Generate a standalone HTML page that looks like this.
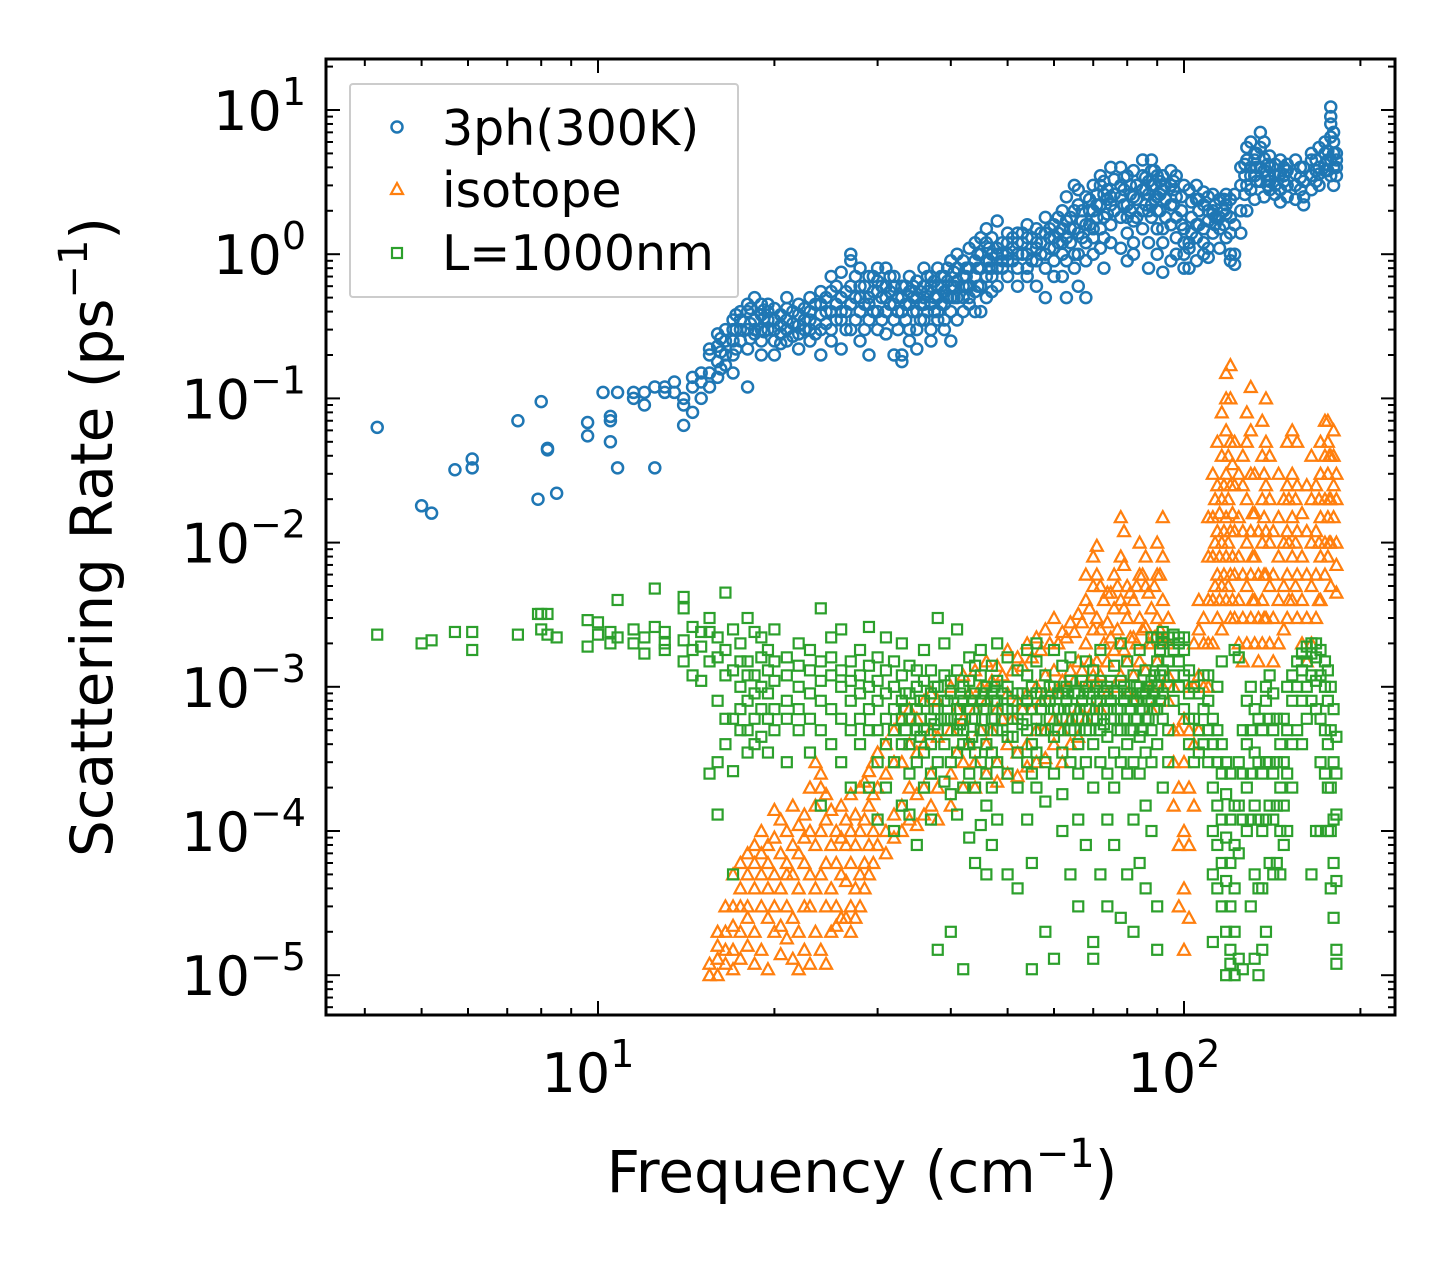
<!DOCTYPE html>
<html><head><meta charset="utf-8"><style>
html,body{margin:0;padding:0;background:#fff;}
svg{display:block;font-family:"DejaVu Sans","Liberation Sans",sans-serif;}
</style></head><body>
<svg id="chart" width="1455" height="1265" viewBox="0 0 1455 1265" xmlns="http://www.w3.org/2000/svg">
<rect width="1455" height="1265" fill="#fff"/>
<g id="marks"></g>
<g id="axes"></g>
<text x="862" y="1192" font-size="58" text-anchor="middle">Frequency (cm<tspan font-size="40" dy="-25">−1</tspan><tspan dy="25">)</tspan></text>
<text transform="translate(112,537) rotate(-90)" font-size="58" text-anchor="middle">Scattering Rate (ps<tspan font-size="40" dy="-25">−1</tspan><tspan dy="25">)</tspan></text>
<g>
<rect x="350" y="84" width="388" height="213" fill="#fff" stroke="#ccc" stroke-width="2" rx="3"/>
<circle cx="397" cy="127" r="5.5" fill="none" stroke="#1f77b4" stroke-width="2.5"/>
<text x="442" y="145" font-size="49">3ph(300K)</text>
<path d="M397,183 L403,194 L391,194 Z" fill="none" stroke="#ff7f0e" stroke-width="2.2"/>
<text x="442" y="207" font-size="49">isotope</text>
<rect x="392" y="248" width="10" height="10" fill="none" stroke="#2ca02c" stroke-width="2.2"/>
<text x="442" y="270" font-size="49">L=1000nm</text>
</g>
</svg>
<script>
const xTicks=[10,100];
const xTickLabels=["1","2"];
const yTicks=[1e1,1e0,1e-1,1e-2,1e-3,1e-4,1e-5];
const yTickLabels=["1","0","−1","−2","−3","−4","−5"];
const threePh=[[4.2,.063],[5,.018],[5.2,.016],[5.7,.032],[6.1,.033,.038],[7.3,.07],[7.9,.02],[8,.095],[8.2,.045,.044],[8.5,.022],[9.6,.055,.068],[10.2,.11],[10.5,.05,.07,.075],[10.8,.11,.033],[11.5,.1,.11],[12,.09,.11],[12.5,.033,.12],[13,.12,.11],[13.5,.11,.13],[14,.065,.09,.1],[14.5,.14,.12,.08],[15,.13,.1,.15],[15.5,.2,.15,.12,.22],[16,.23,.18,.28,.14],[16.5,.17,.25,.3,.2],[17,.25,.35,.2,.3,.15],[17.5,.35,.4,.25,.3],[18,.4,.3,.45,.22,.12],[18.5,.35,.28,.5,.3],[19,.3,.38,.25,.45,.2],[19.5,.45,.35,.3,.4],[20,.35,.25,.42,.3,.2],[21,.42,.3,.35,.25,.5],[22,.38,.28,.45,.32,.22],[23,.5,.35,.3,.4,.25],[24,.3,.45,.38,.55,.2],[25,.55,.4,.3,.7,.25],[26,.75,.5,.35,.4,.22],[27,1,.9,.6,.45,.3],[28,.25,.5,.4,.6,.8],[29,.5,.35,.7,.45,.2],[30,.8,.4,.55,.3,.65],[31,.4,.6,.5,.8,.28],[32,.6,.35,.45,.7,.2],[33,.2,.5,.4,.18,.6],[34,.7,.45,.3,.55,.25],[35,.3,.5,.65,.4,.22],[36,.45,.6,.35,.8,.5],[37,.6,.3,.7,.45,.25],[38,.5,.4,.8,.6,.35],[39,.35,.55,.7,.45,.3],[40,.25,.6,.9,.5,.4],[41,.8,.5,.65,1,.35],[42,.5,.7,.9,.4,.6],[43,.6,.8,1.1,.5,.45],[44,.9,.7,.55,1.2,.4],[45,.4,.8,1,.6,1.3],[46,1.2,.9,.7,.5,1.5],[47,.7,1,1.3,.8,.55],[48,1.1,.8,1.7,.6,1],[50,.9,1.2,.7,1.4,1],[52,1.4,1,.8,1.2,.6],[54,.8,1.3,1.6,1,.7],[56,1.2,.9,1.5,.6,1.1],[58,1,1.4,.8,1.8,.5],[60,1.6,1.1,.9,1.3,.7],[62,.7,1.5,2,1.2,1],[63,1.3,.9,2.5,1.7,.5],[65,2,1.5,1,3,.8],[66,1,2.2,1.4,.6,2.8],[68,.5,1.6,2.5,1.2,.9],[70,1.5,3,2,1,1.3],[72,3,2.2,1.5,3.5,1.1],[73,.8,1.8,2.6,1.3,3.2],[75,2.5,1.6,4,1.2,2.2],[78,4,2.5,1.8,3,1.1],[80,1.8,3.5,2.2,1.4,.9],[82,1.2,2.5,3.8,1.7,1],[85,3.5,2,1.5,4.5,2.8],[87,2,3.2,1.2,2.6,.8],[88,4.5,3,2.2,1.8,3.8],[90,2.5,3.5,1.5,1,2],[92,1.5,2.8,3.5,1.2,.75],[95,3.8,2.2,1.6,3,.9],[97,1,1.3,3.5,2.5,1.8],[100,1.2,1,3,1.5,.8],[102,.8,1.2,2.8,1.1],[105,3,1.3,2.4,1.6,.9],[108,1.2,2.2,1.5,2.7,1],[110,2.5,1.7,2,1.1,.95],[112,2,2.6,1.4,1.9],[115,1.5,2.4,1.8,1.1],[118,2.6,1.9,1.3,2.2],[120,1.8,1,2.4,1.4,.9],[122,1,1.6,2.6,.85],[125,3,2,1.4,4],[128,4.5,3,2,5.5],[130,6,4,2.8,3.5],[132,3.5,5,2.4,4.5],[135,7,5.5,3.2,4],[137,2.5,3.8,4.6,6],[140,4,3.2,4.8,2.8],[143,3.5,4.2,2.6,3],[146,2.8,3.6,4.5,2.3],[150,4.2,3,3.8,2.5],[155,3,4.5,2.4,3.6],[160,2.5,3.2,4,2.2],[165,4.5,3.5,2.8,5],[170,3,4,5.5,3.6],[174,5,3.8,6,4.2],[178,10.5,8,6.5,4.5,3.5,9],[180,6,4,5,3,7],[182,4,5,3.5,4.5],
[16.2,.21,.26,.16],[17.2,.3,.22,.38],[18.2,.33,.42,.26],[19.2,.36,.29,.41],[20.5,.38,.28,.32,.24],[21.5,.33,.4,.27],[22.5,.35,.42,.3],[23.5,.45,.33,.28],[24.5,.4,.5,.33],[25.5,.45,.6,.35],[26.5,.55,.4,.3],[27.5,.5,.7,.35],[28.5,.45,.6,.3],[29.5,.55,.4,.7],[30.5,.5,.35,.6],[31.5,.45,.55,.7],[32.5,.5,.4,.3],[33.5,.35,.6,.45],[34.5,.5,.4,.6],[35.5,.45,.55,.35],[36.5,.55,.4,.7],[37.5,.5,.65,.4],[38.5,.6,.45,.7],[39.5,.5,.65,.8],[40.5,.6,.75,.5],[42.5,.8,.6,.7],[44.5,.8,1,.6],[46.5,.9,1.1,.8],[49,1,.8,1.2,.9],[51,1.1,.9,1.3],[53,1,1.2,1.4],[55,1.1,.9,1.3],[57,1.2,1,1.4],[59,1.3,1.1,1.5],[61,1.2,1.4,1.8],[64,1.5,1.8,1.2],[67,1.7,2,1.3],[69,2,1.6,2.4],[71,2.2,1.8,2.6],[74,2.4,1.9,2.8],[76,2.6,2,3.3],[79,2.8,2.2,3.4],[81,2.6,3,2],[83,2.4,3,1.8],[86,2.8,3.4,2.2],[89,3,3.8,2.4],[91,2.6,3.2,2],[93,2.4,3,1.8],[96,2.8,2.2,3.2],[99,2,2.5,1.6],[103,1.8,2.3,1.4],[106,2,1.6,2.4],[113,1.8,2.2,1.6],[117,2,1.6,2.4],[127,3.5,2.6,4.2],[133,4,3.2,5],[139,3.5,4.2,3],[148,3.5,4,3.2],[158,3.4,2.8,4],[168,3.8,3.2,4.5],[176,4.5,5.2,3.8]];
const isotope=[[15.5,1e-5,1.2e-5],[16,1e-5,1.3e-5,1.6e-5,2e-5],[16.5,1.2e-5,2e-5,3e-5,1.5e-5],[17,1.5e-5,3e-5,5e-5,2.2e-5,1.1e-5],[17.5,2e-5,4e-5,6e-5,3e-5,1.3e-5],[18,3e-5,5e-5,7e-5,1.6e-5,2.5e-5],[18.5,4e-5,8e-5,6e-5,2e-5,1.2e-5],[19,5e-5,1e-4,3e-5,7e-5,1.5e-5],[19.5,6e-5,4e-5,8e-5,2.5e-5,1.1e-5],[20,5e-5,9e-5,3e-5,1.4e-4,2e-5],[20.5,4e-5,7e-5,2.2e-5,1.2e-4,1.4e-5],[21,3e-5,6e-5,1e-4,1.8e-5,5e-5],[21.5,2.5e-5,5e-5,8e-5,1.3e-5,1.5e-4],[22,2e-5,4e-5,7e-5,1.1e-5,1.1e-4],[22.5,3e-5,6e-5,1.5e-5,1.3e-4,9e-5],[23,5e-5,1e-4,2e-4,3e-5,1.2e-5],[23.5,8e-5,1.5e-4,3e-4,4e-5,2e-5],[24,1e-4,2e-4,5e-5,2.5e-4,1.5e-5],[24.5,6e-5,1.2e-4,3e-5,1.8e-4,1.2e-5],[25,4e-5,8e-5,1.4e-4,2e-5],[25.5,3e-5,6e-5,1e-4,2.2e-5],[26,2.5e-5,5e-5,9e-5,1.5e-4],[26.5,2.5e-5,4.5e-5,8e-5,1.2e-4],[27,3e-5,6e-5,1e-4,2e-5,1.8e-4],[27.5,4e-5,8e-5,1.3e-4,2.5e-5],[28,5e-5,1e-4,2e-4,3e-5],[28.5,6e-5,1.2e-4,2.2e-4,4e-5],[29,8e-5,1.5e-4,2.6e-4,5e-5],[29.5,1e-4,1.8e-4,3e-4,6e-5],[30,1.2e-4,2e-4,3.5e-4,8e-5],[31,1e-4,2.5e-4,4e-4,7e-5],[32,1.3e-4,3e-4,5e-4,9e-5],[33,1.5e-4,3e-4,6e-4,1e-4],[34,2e-4,4e-4,7e-4,1.2e-4],[35,1.8e-4,3.5e-4,6e-4,1.1e-4],[36,2e-4,4e-4,8e-4,1.3e-4],[37,2.5e-4,5e-4,9e-4,1.5e-4],[38,2e-4,4.5e-4,8e-4,1.2e-4],[40,2.5e-4,5e-4,1e-3,1.5e-4],[42,3e-4,6e-4,1.2e-3,2e-4],[44,3e-4,7e-4,1.3e-3,2e-4],[46,4e-4,8e-4,1.5e-3,2.5e-4],[48,3e-4,7e-4,1.4e-3,2.2e-4],[50,4e-4,9e-4,1.8e-3,2.5e-4],[52,3.5e-4,8e-4,1.6e-3,2.4e-4],[54,4e-4,9e-4,2e-3,2.8e-4],[56,5e-4,1e-3,2.2e-3,3e-4],[58,5e-4,1.2e-3,2.5e-3,3.2e-4],[60,6e-4,1.3e-3,3e-3,4e-4],[62,5e-4,1.1e-3,2.4e-3,3e-4],[64,6e-4,1.3e-3,2.8e-3,4e-4],[66,7e-4,1.5e-3,3.2e-3,4.5e-4],[68,1e-3,2e-3,4e-3,6e-4,6e-3],[70,1.2e-3,2.5e-3,5e-3,8e-3,7e-4],[71,1.5e-3,3e-3,6e-3,9.5e-3,1e-3],[72,1.2e-3,2.5e-3,5e-3,7e-4],[74,1.5e-3,2.8e-3,4.5e-3,9e-4],[76,1.8e-3,3.5e-3,6e-3,1e-3],[78,2e-3,4e-3,8e-3,1.5e-2,1.2e-3],[79,1.8e-3,3.5e-3,7e-3,1.2e-2],[80,1.5e-3,3e-3,5e-3,9e-4],[82,1.2e-3,2.2e-3,4e-3,8e-4],[84,1.5e-3,3e-3,6e-3,1e-2],[86,1.3e-3,2.6e-3,5e-3,8e-3],[88,1e-3,2e-3,3.5e-3,7e-4],[90,1.5e-3,3e-3,6e-3,1e-2],[92,2e-3,4e-3,8e-3,1.5e-2,1e-3],[94,1.2e-3,2e-3,3e-3,8e-4],[96,5e-4,1e-3,1.5e-4,3e-4],[98,2e-4,5e-4,8e-5,3e-5],[100,1e-4,3e-4,6e-4,1.5e-5,4e-5],[102,8e-5,2e-4,5e-4,1e-3,2.5e-5],[104,1.5e-4,4e-4,1e-3,2e-3],[106,5e-4,1.2e-3,2.5e-3,4e-3],[108,1e-3,2e-3,3e-3],[110,2e-3,4e-3,8e-3,1.5e-2,1e-3],[112,4e-3,8e-3,1.5e-2,3e-2,2e-3],[114,3e-3,6e-3,1.2e-2,2.5e-2,5e-2],[116,5e-3,1e-2,2e-2,4e-2,8e-2,2.5e-3],[118,4e-3,8e-3,1.5e-2,3e-2,6e-2,1e-1,1.5e-1],[120,6e-3,1.2e-2,2.5e-2,5e-2,1e-1,1.7e-1,3e-3],[122,3e-3,6e-3,1.2e-2,2.5e-2,5e-2],[124,2e-3,4e-3,8e-3,1.5e-2,3e-2],[126,1.5e-3,3e-3,6e-3,1.2e-2,2.5e-2,4e-2],[128,2e-3,5e-3,1e-2,2e-2,5e-2,8e-2],[130,3e-3,6e-3,1.2e-2,3e-2,6e-2,1.2e-1],[132,2e-3,4e-3,8e-3,1.6e-2,3e-2],[134,1.5e-3,3e-3,6e-3,1.2e-2],[136,2e-3,4e-3,1e-2,2e-2,4e-2,7e-2],[138,3e-3,6e-3,1.2e-2,2.5e-2,5e-2,1e-1],[140,2e-3,5e-3,1e-2,2e-2,4e-2],[142,1.5e-3,3e-3,6e-3,1.2e-2],[145,2e-3,4e-3,8e-3,1.5e-2,3e-2],[148,2.5e-3,5e-3,1e-2,2e-2],[150,3e-3,6e-3,1.2e-2,2.5e-2,5e-2],[153,4e-3,8e-3,1.5e-2,3e-2,6e-2],[156,3e-3,6e-3,1.2e-2,2.5e-2,5e-2],[159,2e-3,4e-3,8e-3,1.6e-2],[162,1.5e-3,3e-3,6e-3,1.2e-2,2.5e-2],[165,2e-3,5e-3,1e-2,2e-2,4e-2],[168,3e-3,6e-3,1.2e-2,2.5e-2],[171,4e-3,8e-3,1.5e-2,3e-2,5e-2],[174,6e-3,1e-2,2e-2,4e-2,7e-2],[176,8e-3,1.5e-2,3e-2,5e-2,7e-2],[178,5e-3,1e-2,2e-2,4e-2],[180,1.5e-2,2.5e-2,4e-2,6e-2],[182,4.5e-3,7e-3,1e-2,2e-2,3e-2],
[41,3.5e-4,7e-4],[43,4e-4,9e-4],[45,5e-4,1e-3],[47,5e-4,1.1e-3],[49,6e-4,1.2e-3],[51,6e-4,1.3e-3],[53,7e-4,1.4e-3],[55,7e-4,1.6e-3],[57,8e-4,1.8e-3],[59,9e-4,2e-3],[61,9e-4,2e-3],[63,1e-3,2.2e-3],[65,1.1e-3,2.4e-3],[67,1.3e-3,2.8e-3],[69,1.5e-3,3.5e-3],[73,2e-3,4e-3],[75,2.2e-3,4.5e-3],[77,2.5e-3,5e-3],[81,2.2e-3,4.5e-3],[83,2e-3,5e-3],[85,2.5e-3,6e-3],[87,2e-3,4.5e-3],[89,2.2e-3,5e-3],[91,2.5e-3,6e-3],[113,5e-3,1e-2,2e-2],[115,4e-3,8e-3,1.6e-2],[117,6e-3,1.2e-2,2.5e-2],[119,5e-3,1e-2,2e-2,4e-2],[121,4e-3,8e-3,1.6e-2,3.5e-2],[131,4e-3,8e-3,1.6e-2],[137,3e-3,6e-3,1.5e-2,3e-2],[151,4e-3,1e-2,2e-2],[155,5e-3,1e-2,2e-2],[170,4e-3,1e-2,2e-2],[177,1e-2,2e-2,4e-2]];
const boundary=[[4.2,2.3e-3],[5,2e-3],[5.2,2.1e-3],[5.7,2.4e-3],[6.1,2.4e-3,1.8e-3],[7.3,2.3e-3],[7.9,3.2e-3],[8,2.5e-3,3.2e-3],[8.2,3.2e-3,2.3e-3],[8.5,2.2e-3],[9.6,2.9e-3,1.9e-3],[10,2.8e-3,2.3e-3],[10.5,2.4e-3,2e-3],[10.8,4e-3,2.2e-3],[11.5,2.5e-3,2e-3],[12,2.2e-3,1.7e-3],[12.5,4.8e-3,2.6e-3],[13,2.4e-3,1.8e-3,2e-3],[14,3.5e-3,4.2e-3,2.1e-3,1.5e-3],[14.5,2.6e-3,1.2e-3,1.8e-3],[15,2.4e-3,1.9e-3,1.1e-3],[15.5,3e-3,2.4e-3,1.5e-3,2.5e-4],[16,2.2e-3,1.6e-3,8e-4,3e-4,1.3e-4],[16.5,1.8e-3,4.5e-3,1.2e-3,6e-4,4e-4],[17,2.5e-3,1.3e-3,6e-4,2.6e-4,5e-5],[17.5,2e-3,1e-3,5e-4,1.5e-3,7e-4],[18,1.5e-3,8e-4,1.2e-3,3e-3,5e-4,3.5e-4],[18.5,1.2e-3,6e-4,2.4e-3,9e-4,4e-4],[19,1e-3,1.6e-3,7e-4,2.2e-3,4.5e-4],[19.5,1.3e-3,9e-4,6e-4,1.8e-3,3.5e-4],[20,1.1e-3,7e-4,1.5e-3,5e-4,2.5e-3],[21,1.2e-3,8e-4,6e-4,1.6e-3,3e-4],[22,1e-3,1.4e-3,7e-4,5e-4,2e-3],[23,1.3e-3,9e-4,6e-4,1.8e-3,3.5e-4],[24,1.1e-3,8e-4,1.5e-3,5e-4,3.5e-3,1.5e-4],[25,1.2e-3,7e-4,1.6e-3,4e-4,2.2e-3],[26,1e-3,1.3e-3,6e-4,2.5e-3,3e-4],[27,1.1e-3,8e-4,1.5e-3,5e-4,2e-4],[28,1.2e-3,9e-4,6e-4,1.8e-3,4e-4],[29,1e-3,7e-4,1.4e-3,5e-4,2.6e-3,2e-4],[30,1.1e-3,8e-4,5e-4,1.6e-3,3e-4,1.2e-4],[31,9e-4,6e-4,1.3e-3,4e-4,2.2e-3,2e-4],[32,1e-3,7e-4,5e-4,1.5e-3,3e-4,1e-4],[33,8e-4,6e-4,1.2e-3,4e-4,2e-3,1.5e-4],[34,9e-4,6e-4,4e-4,1.4e-3,2.5e-4,1.3e-4],[35,1e-3,7e-4,5e-4,1.3e-3,3e-4,8e-5],[36,8e-4,5e-4,1.1e-3,3.5e-4,1.8e-3,2e-4],[37,9e-4,6e-4,4e-4,1.3e-3,2.5e-4,1.2e-4],[38,7e-4,5e-4,1e-3,3e-4,3e-3,1.5e-5],[39,8e-4,6e-4,4e-4,1.2e-3,2.2e-4,2e-3],[40,9e-4,6e-4,1.1e-3,3e-4,1.8e-4,2e-5],[41,7e-4,5e-4,1.3e-3,3.5e-4,2.5e-3,1.3e-4],[42,8e-4,5e-4,1e-3,4e-4,2e-4,1.1e-5],[43,7e-4,1.1e-3,4e-4,1.6e-3,2.5e-4,9e-5],[44,6e-4,9e-4,3.5e-4,1.4e-3,2e-4,6e-5],[45,8e-4,5e-4,1.2e-3,3e-4,1.8e-3,1.1e-4],[46,7e-4,4e-4,1e-3,2.5e-4,1.5e-4,5e-5],[47,6e-4,9e-4,3.5e-4,1.4e-3,2e-4,8e-5],[48,8e-4,5e-4,1.1e-3,3e-4,2e-3,1.2e-4],[50,7e-4,4.5e-4,1e-3,2.5e-4,1.6e-3,5e-5],[52,6e-4,9e-4,3.5e-4,1.3e-3,2e-4,4e-5],[54,8e-4,5e-4,1.2e-3,3e-4,1.8e-3,1.2e-4],[55,7e-4,4e-4,1e-3,2.5e-4,1.1e-5,6e-5],[56,6e-4,9e-4,3.5e-4,1.5e-3,2e-4,2e-3],[58,8e-4,5e-4,1.2e-3,3e-4,1.6e-4,2e-5],[60,7e-4,4.5e-4,1e-3,2.5e-4,1.8e-3,1.3e-5],[62,6e-4,9e-4,3.5e-4,1.4e-3,1.8e-4,1e-4],[64,7e-4,5e-4,1.1e-3,3e-4,1.6e-3,5e-5],[66,6e-4,4e-4,9e-4,2.5e-4,1.2e-4,3e-5],[68,7e-4,5e-4,1e-3,3e-4,1.5e-3,8e-5],[70,6e-4,9e-4,4e-4,1.3e-3,2e-4,1.3e-5,1.7e-5],[72,8e-4,5e-4,1.1e-3,3e-4,1.8e-3,5e-5],[74,7e-4,4.5e-4,1e-3,2.5e-4,1.2e-4,3e-5],[76,6e-4,9e-4,3.5e-4,1.4e-3,2e-4,8e-5],[78,7e-4,5e-4,1.1e-3,3e-4,2e-3,2.5e-5],[80,6e-4,4e-4,9e-4,2.5e-4,1.5e-3,5e-5],[82,8e-4,5e-4,1.2e-3,3e-4,1.2e-4,2e-5],[84,7e-4,4.5e-4,1e-3,2.5e-4,1.8e-3,6e-5],[86,6e-4,9e-4,3.5e-4,1.3e-3,1.5e-4,4e-5],[88,8e-4,5e-4,1.1e-3,3e-4,2.2e-3,1e-4],[90,7e-4,1e-3,1.5e-3,2.2e-3,4e-4,3e-5,1.5e-5],[92,9e-4,1.3e-3,2e-3,6e-4,2.4e-3,2e-4],[94,1.5e-3,2.2e-3,1e-3,5e-4,3e-4],[96,1.8e-3,2.3e-3,1.2e-3,8e-4],[98,2e-3,2.2e-3,1.5e-3,1e-3],[100,2.2e-3,1.8e-3,1.2e-3,7e-4],[102,1.3e-3,9e-4,6e-4,4e-4],[104,1e-3,6e-4,3e-4],[106,9e-4,5e-4,3.5e-4],[108,1.2e-3,7e-4,4e-4],[110,8e-4,5e-4,3e-4,1.2e-3],[112,6e-4,4e-4,2e-4,1e-4,5e-5,1.7e-5],[114,5e-4,3e-4,1.5e-4,8e-5,4e-5,1e-3],[116,4e-4,2.5e-4,1.2e-4,6e-5,3e-5,1.5e-3],[118,3e-4,1.8e-4,9e-5,4.5e-5,2e-5,1e-5],[120,2.5e-4,1.2e-4,6e-5,3e-5,1.5e-5,1.2e-5],[122,1.5e-4,8e-5,4e-5,2e-5,1e-5,1.8e-3],[124,3e-4,1.5e-4,7e-5,1.3e-5,1.6e-3],[126,5e-4,2.5e-4,1.2e-4,1.1e-5],[128,8e-4,4e-4,2e-4,1e-4],[130,1e-3,5e-4,2.5e-4,1.2e-4,3e-5],[132,7e-4,3.5e-4,1.5e-4,5e-5,1.3e-5],[134,6e-4,3e-4,1.2e-4,4e-5,1e-5],[136,5e-4,2.5e-4,1e-4,4e-5,1.5e-5],[138,1e-3,8e-4,3e-4,1.2e-4,2e-5],[140,1.2e-3,6e-4,3e-4,1.5e-4,6e-5],[142,9e-4,5e-4,2.5e-4,1.2e-4,5e-5],[144,6e-4,3e-4,1.5e-4,6e-5],[146,4e-4,2e-4,1e-4,5e-5],[148,6e-4,3e-4,1.5e-4,8e-5],[150,1e-3,5e-4,2.5e-4,1e-4],[153,1.2e-3,8e-4,4e-4,2e-4],[156,1.5e-3,1e-3,5e-4],[159,1.7e-3,1.3e-3,8e-4,4e-4],[162,1.9e-3,1.5e-3,1e-3,6e-4],[165,2e-3,1.7e-3,1.2e-3,8e-4,5e-5],[168,2e-3,1.6e-3,1.1e-3,7e-4,1e-4],[171,1.8e-3,1.2e-3,6e-4,3e-4,1e-4],[174,1.5e-3,1e-3,5e-4,2.5e-4],[176,1.3e-3,8e-4,4e-4,2e-4,1e-4],[178,1e-3,5e-4,2e-4,1e-4,4e-5],[180,7e-4,3e-4,1.2e-4,6e-5,2.5e-5],[182,4.5e-4,2.5e-4,1.3e-4,4.5e-5,1.5e-5,1.2e-5],
[33.5,7e-4,5e-4,9e-4],[35.5,6e-4,8e-4,4.5e-4],[37.5,7e-4,5.5e-4,1e-3],[39.5,6e-4,8e-4,5e-4],[41.5,7e-4,9e-4,5.5e-4],[43.5,6e-4,8e-4,4.5e-4],[45.5,7e-4,9e-4,5e-4],[47.5,6e-4,8e-4,1e-3],[49,7e-4,5e-4,9e-4],[51,6e-4,8e-4,4.5e-4],[53,7e-4,9e-4,5.5e-4],[57,7e-4,9e-4,5e-4],[59,6e-4,8e-4,1e-3],[61,7e-4,5e-4,9e-4],[63,6e-4,8e-4,1e-3],[65,7e-4,9e-4,5e-4],[67,6e-4,8e-4,1.1e-3],[69,7e-4,9e-4,5e-4],[71,6e-4,8e-4,1e-3],[73,7e-4,9e-4,5.5e-4],[75,6e-4,8e-4,1.1e-3],[77,7e-4,9e-4,5e-4],[79,6e-4,8e-4,1e-3],[81,7e-4,9e-4,5e-4],[83,6e-4,8e-4,1e-3],[85,7e-4,9e-4,5e-4],[87,6e-4,8e-4,1e-3],[89,7e-4,9e-4,1.2e-3],[91,8e-4,1.2e-3,1.8e-3]];

const L=326,R=1395,T=59,B=1015;
const xDec=586, yDec=144.2;
function sx(v){return 598+(Math.log10(v)-1)*xDec;}
function sy(v){return 110-(Math.log10(v)-1)*yDec;}
const NS="http://www.w3.org/2000/svg";
const marks=document.getElementById('marks');
const axes=document.getElementById('axes');
function mk(tag,attrs,parent){const e=document.createElementNS(NS,tag);for(const k in attrs)e.setAttribute(k,attrs[k]);parent.appendChild(e);return e;}

const gB=mk('g',{},marks);


threePh.forEach(row=>{for(let i=1;i<row.length;i++){
  const c=mk('circle',{cx:sx(row[0]),cy:sy(row[i]),r:5.5,fill:'none',stroke:'#1f77b4','stroke-width':2.5},gB);
  
  
}});
const gO=mk('g',{},marks);


isotope.forEach(row=>{for(let i=1;i<row.length;i++){
  const x=sx(row[0]),y=sy(row[i]);
  const p=mk('path',{d:`M${x},${y-6}L${x+6},${y+5}L${x-6},${y+5}Z`,fill:'none',stroke:'#ff7f0e','stroke-width':2.2},gO);
  
  
}});
const gG=mk('g',{},marks);


boundary.forEach(row=>{for(let i=1;i<row.length;i++){
  const r=mk('rect',{x:sx(row[0])-5,y:sy(row[i])-5,width:10,height:10,fill:'none',stroke:'#2ca02c','stroke-width':2.2},gG);
  
  
}});

const fr=mk('rect',{x:L,y:T,width:R-L,height:B-T,fill:'none',stroke:'#000','stroke-width':3},axes);


for(let d=0;d<=2;d++){for(let m=1;m<=9;m++){
  const v=m*Math.pow(10,d);const x=sx(v);if(x<L||x>R)continue;
  const len=m===1?14:7;
  mk('line',{x1:x,x2:x,y1:B,y2:B-len,stroke:'#000','stroke-width':2},axes);
  mk('line',{x1:x,x2:x,y1:T,y2:T+len,stroke:'#000','stroke-width':2},axes);
}}
for(let d=-6;d<=1;d++){for(let m=1;m<=9;m++){
  const v=m*Math.pow(10,d);const y=sy(v);if(y<T||y>B)continue;
  const len=m===1?14:7;
  mk('line',{x1:L,x2:L+len,y1:y,y2:y,stroke:'#000','stroke-width':2},axes);
  mk('line',{x1:R,x2:R-len,y1:y,y2:y,stroke:'#000','stroke-width':2},axes);
}}
xTicks.forEach((v,i)=>{
  const t=mk('text',{x:sx(v)-10,y:1092,'font-size':54,'text-anchor':'middle'},axes);
  
  
  t.innerHTML='10<tspan font-size="38" dy="-25">'+xTickLabels[i]+'</tspan>';
});
yTicks.forEach((v,i)=>{
  const t=mk('text',{x:306,y:sy(v)+20,'font-size':54,'text-anchor':'end'},axes);
  
  
  t.innerHTML='10<tspan font-size="38" dy="-25">'+yTickLabels[i]+'</tspan>';
});
</script>
</body></html>
